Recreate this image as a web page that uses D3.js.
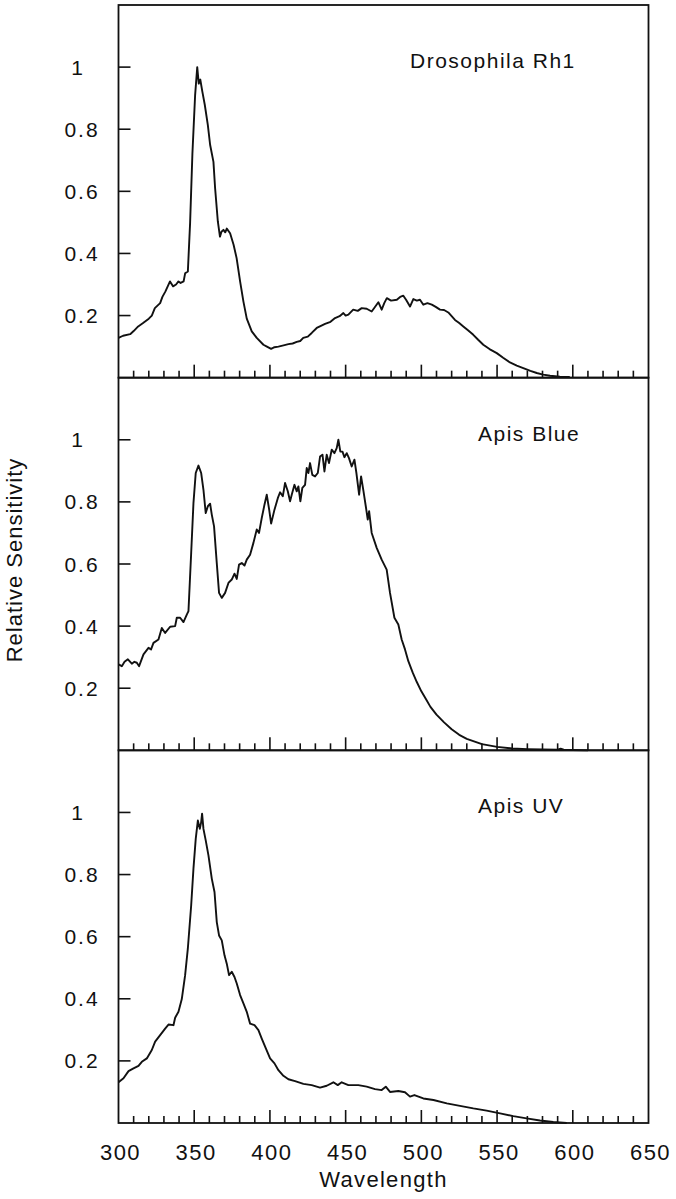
<!DOCTYPE html>
<html>
<head>
<meta charset="utf-8">
<script src="https://cdn.jsdelivr.net/npm/d3@7/dist/d3.min.js"></script>
<style>
  html, body { margin: 0; padding: 0; background: #fff; }
  svg text { font-family: "Liberation Sans", Arial, sans-serif; fill: #111; }
</style>
</head>
<body>
<div id="chart"></div>
<script>
const xTicks = d3.range(300, 651, 10);
const xTickLabels = [300, 350, 400, 450, 500, 550, 600, 650];
const yTickLabels = [0.2, 0.4, 0.6, 0.8, 1];
const panelTitles = ["Drosophila Rh1", "Apis Blue", "Apis UV"];

// [wavelength, relative sensitivity]
const drosophilaRh1 = [
  [300,0.128],[303,0.135],[307.7,0.14],[310,0.15],[313,0.165],[316,0.175],[320,0.19],[322,0.2],[324,0.224],
  [327.5,0.24],[329,0.26],[331,0.278],[334,0.31],[336,0.294],[338,0.3],[339.6,0.31],[341,0.305],[343,0.31],
  [344,0.336],[345.8,0.342],[347.3,0.5],[348.8,0.72],[350.6,0.91],[352,1.0],[353,0.947],[354,0.96],
  [355.4,0.92],[357,0.878],[359,0.813],[360.5,0.75],[362.7,0.695],[363.8,0.61],[365.6,0.503],[367,0.454],
  [368,0.47],[369.3,0.476],[370.5,0.468],[371.5,0.48],[373.7,0.465],[376,0.428],[378,0.385],[380.3,0.31],
  [382.5,0.245],[384.7,0.19],[388,0.149],[391.3,0.128],[395.7,0.106],[398,0.1],[400.8,0.093],[403,0.098],
  [405.6,0.1],[409,0.104],[412.2,0.108],[415,0.11],[417.7,0.115],[420,0.118],[422,0.128],[425,0.132],
  [427.6,0.144],[430.9,0.16],[433,0.165],[436.4,0.173],[440,0.18],[443,0.192],[446,0.198],[448.5,0.208],
  [450,0.2],[451.8,0.203],[455,0.219],[458,0.215],[460.6,0.224],[463.9,0.222],[467.2,0.213],[469,0.225],
  [471.6,0.243],[473.8,0.219],[475.5,0.24],[477.2,0.256],[480,0.248],[483.8,0.251],[486,0.26],[488.1,0.264],
  [490,0.25],[492.5,0.229],[494.7,0.253],[497,0.248],[499.1,0.251],[501.3,0.235],[504,0.24],[506.9,0.235],
  [509.5,0.228],[512.3,0.219],[515,0.218],[517.8,0.21],[520,0.198],[522.2,0.186],[525,0.176],[527.7,0.165],
  [531,0.152],[534.3,0.138],[537.5,0.122],[540.9,0.106],[545,0.092],[549.8,0.079],[554,0.064],[558.5,0.049],
  [563,0.039],[567.3,0.031],[572,0.022],[576.2,0.015],[580.5,0.01],[585,0.006],[591.5,0.003],[598,0.002]
];

const apisBlue = [
  [300,0.277],[302.2,0.271],[304,0.285],[306.2,0.293],[308.8,0.279],[310.5,0.285],[312.1,0.282],[313.6,0.271],
  [316.5,0.309],[319.8,0.33],[321.5,0.325],[323.1,0.346],[326.4,0.357],[328.6,0.394],[330.8,0.378],
  [334.1,0.398],[337.4,0.4],[338.5,0.427],[340.7,0.427],[342.9,0.413],[345.1,0.437],[346.2,0.448],
  [348,0.636],[349.5,0.796],[351,0.893],[352.8,0.917],[354.6,0.893],[356.1,0.839],[357.6,0.764],
  [359,0.786],[360.5,0.794],[361.6,0.759],[363.1,0.721],[364.9,0.603],[366.4,0.507],[368.2,0.491],
  [370.4,0.507],[372.6,0.539],[374.8,0.55],[376.6,0.569],[378.1,0.552],[379.6,0.598],[381.4,0.603],
  [383.2,0.595],[384.7,0.614],[386.9,0.63],[389.1,0.668],[391.3,0.711],[392.8,0.7],[394.6,0.748],
  [396.4,0.791],[397.9,0.823],[399.5,0.775],[400.8,0.73],[403,0.775],[405.2,0.812],[406.7,0.831],
  [408.5,0.818],[410,0.861],[411.8,0.834],[413.3,0.802],[414.4,0.823],[416.2,0.855],[417.7,0.834],
  [418.8,0.85],[420.1,0.802],[421.4,0.845],[423.2,0.855],[424.3,0.909],[425.4,0.893],[426.5,0.925],
  [428,0.887],[429.8,0.882],[431.6,0.893],[433.1,0.946],[434.7,0.952],[436,0.898],[437.5,0.952],
  [439,0.925],[440.8,0.968],[442.6,0.957],[444.1,0.973],[445.2,1.0],[446.5,0.962],[447.9,0.962],
  [449.2,0.944],[450.7,0.957],[452.2,0.941],[454,0.914],[455.8,0.936],[457.1,0.893],[458.9,0.823],
  [460.2,0.882],[461.8,0.834],[463.3,0.786],[464.6,0.743],[465.5,0.77],[467.2,0.7],[470.5,0.652],
  [473.8,0.614],[477.1,0.582],[479.3,0.507],[482.2,0.427],[484.8,0.405],[487,0.357],[489.2,0.325],
  [491.4,0.287],[494.3,0.25],[497,0.22],[500,0.19],[503,0.165],[506,0.14],[510,0.115],[515,0.09],
  [520,0.068],[525,0.05],[530,0.037],[540,0.02],[550,0.011],[560,0.006],[570,0.004],[580,0.003],
  [590,0.002],[592,0.005],[594,0.002],[600,0.001],[610,0.0]
];

const apisUV = [
  [300,0.131],[303.3,0.144],[306.6,0.167],[309.9,0.176],[313.2,0.184],[315.4,0.197],[318.7,0.208],
  [322,0.235],[324.2,0.262],[327.5,0.283],[330.8,0.304],[333,0.317],[336.3,0.315],[337.4,0.339],
  [339.6,0.358],[341.8,0.399],[344,0.476],[345.8,0.562],[348,0.701],[349.5,0.819],[351,0.915],
  [352.4,0.974],[353.7,0.947],[354.6,0.969],[355.2,0.996],[356.1,0.947],[357.6,0.91],[359.4,0.862],
  [361.6,0.787],[363.4,0.744],[364.9,0.647],[366.4,0.604],[368.2,0.588],[370,0.54],[371.5,0.513],
  [373,0.476],[374.8,0.487],[376.6,0.47],[378.1,0.449],[380.3,0.412],[382.5,0.385],[384.7,0.358],
  [386.9,0.32],[389.8,0.315],[392.4,0.299],[394.6,0.272],[397.3,0.24],[400.1,0.208],[403,0.192],
  [405.6,0.17],[408.9,0.152],[412.2,0.141],[416.6,0.135],[422.1,0.126],[427.6,0.122],[433.1,0.114],
  [437.5,0.12],[441.9,0.131],[444.8,0.122],[447.4,0.131],[451.8,0.122],[458.4,0.122],[463.9,0.117],
  [469.4,0.109],[473.8,0.106],[476.5,0.117],[479.3,0.1],[484.8,0.103],[489.2,0.099],[492.5,0.085],
  [495.4,0.09],[501.3,0.079],[508,0.074],[516.8,0.063],[525.5,0.055],[534.3,0.047],[543.1,0.04],
  [552,0.031],[560.7,0.022],[569.5,0.015],[578.3,0.008],[587.1,0.003],[596,0.0]
];

const series = [drosophilaRh1, apisBlue, apisUV];

const width = 676;
const height = 1199;
const plotLeft = 118.5, plotRight = 648.5, plotTop = 5, plotBottom = 1123;
const panelHeight = (plotBottom - plotTop) / 3;
const titleX = [410, 478, 478];

const svg = d3
    .select("#chart")
    .append("svg")
    .attr("width", width)
    .attr("height", height)
    .attr("viewBox", `0 0 ${width} ${height}`);

const x = d3.scaleLinear().domain([300, 650]).range([plotLeft, plotRight]);

series.forEach((data, i) => {
  const panelTop = plotTop + i * panelHeight;
  const y = d3.scaleLinear().domain([0, 1.2]).range([panelTop + panelHeight, panelTop]);
  const g = svg.append("g");

  g.append("rect")
      .attr("x", plotLeft)
      .attr("y", panelTop)
      .attr("width", plotRight - plotLeft)
      .attr("height", panelHeight)
      .attr("fill", "none")
      .attr("stroke", "#111")
      .attr("stroke-width", 1.8);

  // ticks point inward from the bottom edge
  g.selectAll(".xtick")
      .data(xTicks.filter(d => d > 300 && d < 650))
      .join("line")
      .attr("x1", d => x(d))
      .attr("x2", d => x(d))
      .attr("y1", y(0))
      .attr("y2", d => y(0) - (d % 50 === 0 ? 13 : 7))
      .attr("stroke", "#111")
      .attr("stroke-width", 1.6);

  g.selectAll(".ytick")
      .data(yTickLabels)
      .join("line")
      .attr("x1", plotLeft)
      .attr("x2", plotLeft + 12)
      .attr("y1", d => y(d))
      .attr("y2", d => y(d))
      .attr("stroke", "#111")
      .attr("stroke-width", 1.6);

  g.selectAll(".ylabel")
      .data(yTickLabels)
      .join("text")
      .attr("x", d => d === 1 ? 78 : 82)
      .attr("y", d => y(d))
      .attr("dy", "0.36em")
      .attr("text-anchor", "middle")
      .attr("font-size", "21px")
      .attr("letter-spacing", "2px")
      .text(d => d === 1 ? "1" : d3.format(".1f")(d));

  g.append("text")
      .attr("x", titleX[i])
      .attr("y", panelTop + 63)
      .attr("font-size", "21px")
      .attr("letter-spacing", "1.5px")
      .text(panelTitles[i]);

  const line = d3.line()
      .x(d => x(d[0]))
      .y(d => y(d[1]));

  g.append("path")
      .datum(data)
      .attr("d", line)
      .attr("fill", "none")
      .attr("stroke", "#111")
      .attr("stroke-width", 1.9)
      .attr("stroke-linejoin", "round");
});

svg.selectAll(".xlabel")
    .data(xTickLabels)
    .join("text")
    .attr("x", d => x(d) + 2)
    .attr("y", 1160)
    .attr("text-anchor", "middle")
    .attr("font-size", "22px")
    .attr("letter-spacing", "1.5px")
    .text(d => d);

svg.append("text")
    .attr("x", (plotLeft + plotRight) / 2)
    .attr("y", 1187)
    .attr("text-anchor", "middle")
    .attr("font-size", "22px")
    .attr("letter-spacing", "1.3px")
    .text("Wavelength");

svg.append("text")
    .attr("transform", `translate(22,560) rotate(-90)`)
    .attr("text-anchor", "middle")
    .attr("font-size", "22px")
    .attr("letter-spacing", "1px")
    .text("Relative Sensitivity");
</script>
</body>
</html>
